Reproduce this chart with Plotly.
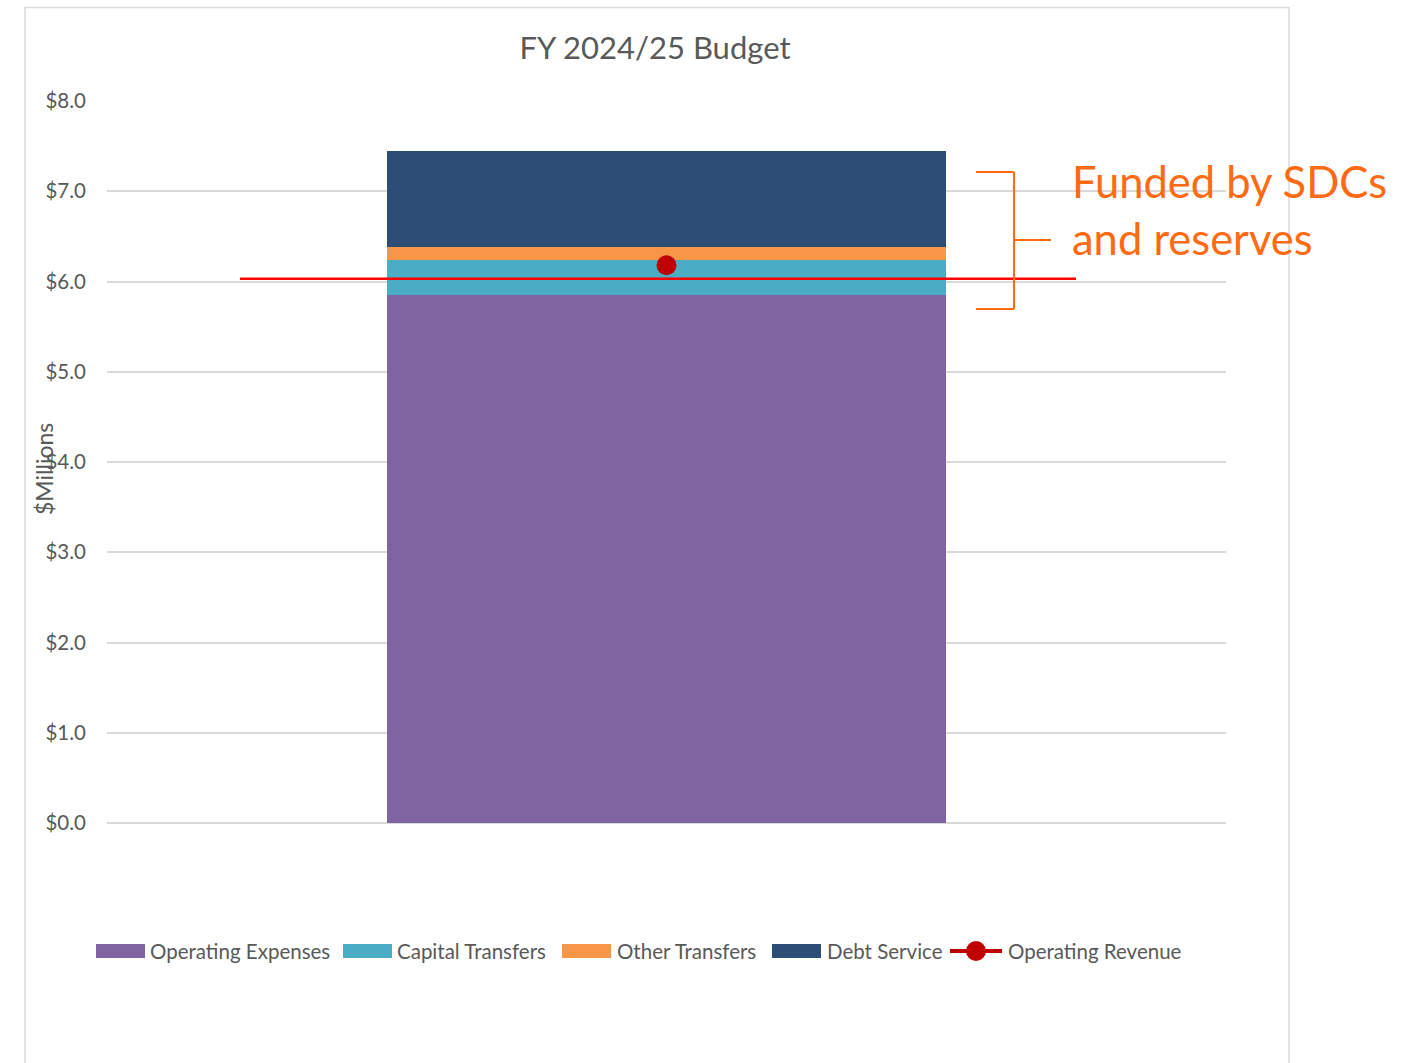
import plotly.graph_objects as go

# ---- data ----
category = ["FY 2024/25"]
operating_expenses = [5.85]
capital_transfers = [0.39]
other_transfers = [0.14]
debt_service = [1.07]
operating_revenue = [6.18]
revenue_reference_level = 6.03

series_names = ["Operating Expenses", "Capital Transfers", "Other Transfers", "Debt Service"]
series_values = [operating_expenses, capital_transfers, other_transfers, debt_service]
series_colors = ["#8064A2", "#4BACC6", "#F79646", "#2C4D75"]
revenue_name = "Operating Revenue"
revenue_color = "#C00000"

title_text = "FY 2024/25 Budget"
yaxis_label = "$Millions"
callout_text = "Funded by SDCs<br>and reserves"

# ---- layout geometry (pixels) ----
W, H = 1405, 1063
L, R, T, B = 107, 1226, 101, 823
FONT = "Lato"
GREY = "#595959"


def px(x):
    return (x - L) / (R - L)


def py(y):
    return (B - y) / (B - T)


fig = go.Figure()
for name, vals, col in zip(series_names, series_values, series_colors):
    fig.add_trace(go.Bar(x=category, y=vals, name=name, marker=dict(color=col, line=dict(width=0)),
                         width=0.5, showlegend=False))

fig.add_trace(go.Scatter(x=category, y=operating_revenue, name=revenue_name, mode="lines+markers",
                         marker=dict(color=revenue_color, size=20), line=dict(color=revenue_color, width=3),
                         showlegend=False))

shapes = []
# outer border of chart
shapes.append(dict(type="rect", xref="paper", yref="paper", x0=px(25), x1=px(1289), y0=py(1100), y1=py(7.5),
                   line=dict(color="#D9D9D9", width=1.5), fillcolor="rgba(0,0,0,0)", layer="below"))
# red reference line
shapes.append(dict(type="line", xref="paper", yref="y", x0=px(240), x1=px(1076),
                   y0=revenue_reference_level, y1=revenue_reference_level,
                   line=dict(color="#FF0000", width=2.5)))
# orange bracket
org = "#FF6A13"
for (x0, y0, x1, y1) in [(976, 172, 1014, 172), (1014, 172, 1014, 309), (976, 309, 1014, 309), (1014, 240, 1051, 240)]:
    shapes.append(dict(type="line", xref="paper", yref="paper", x0=px(x0), y0=py(y0), x1=px(x1), y1=py(y1),
                       line=dict(color=org, width=2)))

annotations = []
# y axis title
annotations.append(dict(text=yaxis_label, xref="paper", yref="paper", x=px(44), y=py(469), textangle=-90,
                        showarrow=False, font=dict(family=FONT, size=23, color=GREY),
                        xanchor="center", yanchor="middle"))
# callout text
annotations.append(dict(text=callout_text, xref="paper", yref="paper", x=px(1070), y=py(153),
                        showarrow=False, align="left", xanchor="left", yanchor="top",
                        font=dict(family=FONT, size=43.5, color=org)))

# custom legend
sw_x = [96, 343, 562, 772]
txt_x = [148, 395, 615, 825, 1006]
leg_y = 951
LEG_FS = 20.5
for i, (name, col) in enumerate(zip(series_names, series_colors)):
    shapes.append(dict(type="rect", xref="paper", yref="paper", x0=px(sw_x[i]), x1=px(sw_x[i] + 49),
                       y0=py(leg_y + 7), y1=py(leg_y - 7), fillcolor=col, line=dict(width=0)))
    annotations.append(dict(text=name, xref="paper", yref="paper", x=px(txt_x[i]), y=py(leg_y),
                            xanchor="left", yanchor="middle", showarrow=False,
                            font=dict(family=FONT, size=LEG_FS, color=GREY)))
shapes.append(dict(type="line", xref="paper", yref="paper", x0=px(950), x1=px(1002), y0=py(leg_y), y1=py(leg_y),
                   line=dict(color=revenue_color, width=4)))
shapes.append(dict(type="circle", xref="paper", yref="paper", x0=px(966), x1=px(986), y0=py(leg_y + 10),
                   y1=py(leg_y - 10), fillcolor=revenue_color, line=dict(width=0)))
annotations.append(dict(text=revenue_name, xref="paper", yref="paper", x=px(txt_x[4]), y=py(leg_y),
                        xanchor="left", yanchor="middle", showarrow=False,
                        font=dict(family=FONT, size=LEG_FS, color=GREY)))

fig.update_layout(
    width=W, height=H,
    margin=dict(l=L, r=W - R, t=T, b=H - B, autoexpand=False),
    paper_bgcolor="white", plot_bgcolor="white",
    title=dict(text=title_text, x=px(655), xref="paper", xanchor="center", y=1 - 48 / H, yanchor="middle",
               font=dict(family=FONT, size=31, color=GREY)),
    showlegend=False,
    barmode="stack",
    shapes=shapes,
    annotations=annotations,
    font=dict(family=FONT, color=GREY),
)
fig.update_xaxes(range=[-0.5, 0.5], showticklabels=False, showgrid=False, zeroline=False, showline=False,
                 fixedrange=True)
fig.update_yaxes(range=[0, 8], dtick=1, tick0=0, tickprefix="$", tickformat=".1f", showgrid=True,
                 gridcolor="#D9D9D9", gridwidth=1.5, zeroline=True, zerolinecolor="#D9D9D9", zerolinewidth=1.5,
                 showline=False, ticks="", ticklabelstandoff=20,
                 tickfont=dict(family=FONT, size=20.5, color=GREY))

fig.write_html("out.html", config={"displayModeBar": False},
               post_script="document.body.style.margin='0';document.body.style.overflow='hidden';")
